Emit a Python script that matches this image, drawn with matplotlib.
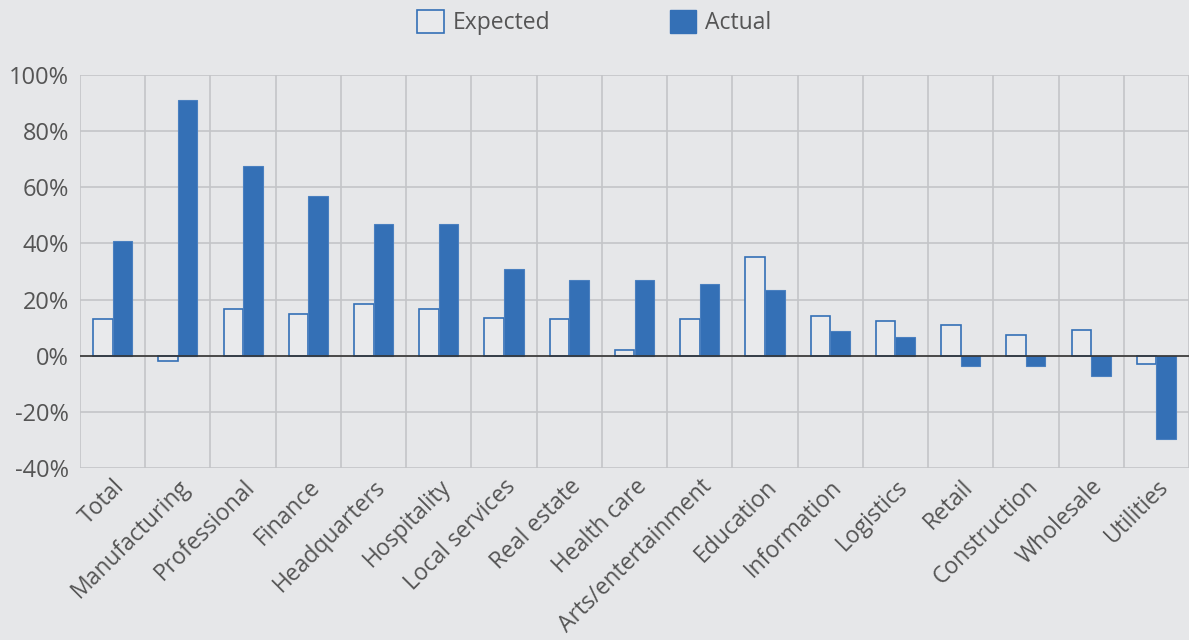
import numpy as np
import matplotlib.pyplot as plt
from matplotlib.patches import Patch
from matplotlib.ticker import FuncFormatter

categories = ["Total", "Manufacturing", "Professional", "Finance", "Headquarters",
              "Hospitality", "Local services", "Real estate", "Health care",
              "Arts/entertainment", "Education", "Information", "Logistics",
              "Retail", "Construction", "Wholesale", "Utilities"]
expected = [13, -2, 16.5, 15, 18.5, 16.5, 13.5, 13, 2, 13, 35, 14, 12.3, 11, 7.4, 9, -3]
actual = [41, 91, 67.5, 57, 47, 47, 31, 27, 27, 25.5, 23.5, 8.7, 6.6, -3.8, -3.8, -7.3, -29.5]
yticks = [-40, -20, 0, 20, 40, 60, 80, 100]

bg = "#e6e7e9"
blue = "#3470b6"
txt = "#555555"

plt.rcParams['font.family'] = ['Open Sans', 'DejaVu Sans']

fig = plt.figure(figsize=(11.89, 6.4), dpi=100, facecolor=bg)
ax = fig.add_axes([80 / 1189, 1 - 468 / 640, 1 - 80 / 1189, (468 - 75) / 640])
ax.set_facecolor(bg)

x = np.arange(len(categories))
w = 0.3
ax.bar(x - w / 2, expected, w, facecolor="#e9eaec", edgecolor=blue, linewidth=1.2, zorder=3)
ax.bar(x + w / 2, actual, w, color=blue, edgecolor="#4a80c0", linewidth=0.8, zorder=3)
ax.axhline(0, color="#333333", linewidth=1.2, zorder=4)

ax.set_xlim(-0.5, len(categories) - 0.5)
ax.set_ylim(-40, 100)
ax.set_yticks(yticks)
ax.yaxis.set_major_formatter(FuncFormatter(lambda v, p: f"{int(v)}%"))

# vertical lines sit between categories
ax.set_xticks(x)
ax.set_xticks(np.arange(-0.5, len(categories), 1), minor=True)
ax.set_xticklabels(categories, rotation=45, ha="right", rotation_mode="anchor")
ax.grid(axis="y", which="major", color="#c4c5c8", linewidth=1.2, zorder=0)
ax.grid(axis="x", which="minor", color="#c4c5c8", linewidth=1.2, zorder=0)
ax.tick_params(axis="both", which="both", length=0, colors=txt)
ax.tick_params(axis="y", pad=8, labelsize=17)
ax.tick_params(axis="x", pad=5, labelsize=16.5)
for s in ax.spines.values():
    s.set_visible(False)

handles = [Patch(facecolor="#e9eaec", edgecolor=blue, linewidth=1.2, label="Expected"),
           Patch(facecolor=blue, edgecolor=blue, label="Actual")]
fig.legend(handles=handles, loc="center", bbox_to_anchor=(0.5, 0.965), ncol=2,
           frameon=False, fontsize=16.5, labelcolor=txt, handlelength=1.15,
           handleheight=1.2, handletextpad=0.4, columnspacing=5.2)

fig.savefig("out.png", dpi=100, facecolor=bg)
